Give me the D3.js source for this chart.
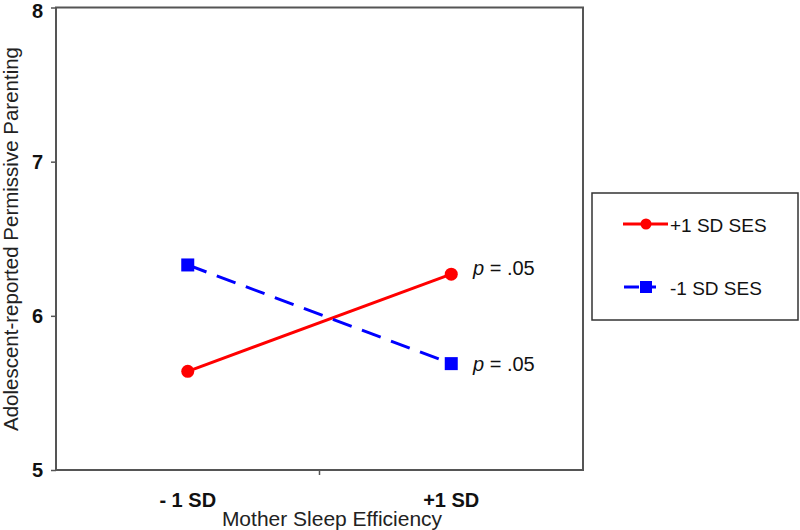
<!DOCTYPE html>
<html>
<head>
<meta charset="utf-8">
<title>Permissive Parenting</title>
<script src="https://d3js.org/d3.v7.min.js"></script>
<style>
  body { margin: 0; background: #fff; }
  svg { font-family: "Liberation Sans", Arial, sans-serif; }
</style>
</head>
<body>
<div id="chart"></div>
<script>
// data
const categories = ["- 1 SD", "+1 SD"];
const seriesNames = ["+1 SD SES", "-1 SD SES"];
const highSES = [5.64, 6.27];
const lowSES = [6.33, 5.69];
const pLabels = ["p = .05", "p = .05"];
const yTicks = [5, 6, 7, 8];

const W = 800, H = 530;
const svg = d3.select("#chart").append("svg")
  .attr("width", W).attr("height", H);

const plotL = 56, plotR = 583, plotT = 7.5, plotB = 470;

const x = d3.scalePoint().domain(categories).range([plotL, plotR]).padding(0.5);
const y = d3.scaleLinear().domain([5, 8]).range([plotB, plotT]);

// plot frame
svg.append("rect")
  .attr("x", plotL).attr("y", plotT)
  .attr("width", plotR - plotL).attr("height", plotB - plotT)
  .attr("fill", "none").attr("stroke", "#555").attr("stroke-width", 2);

// y axis
const yAxis = svg.append("g")
  .attr("transform", `translate(${plotL},0)`)
  .call(d3.axisLeft(y).tickValues(yTicks).tickFormat(d3.format("d")).tickSize(5).tickPadding(8));
yAxis.select(".domain").remove();
yAxis.selectAll("line").attr("stroke", "#555").attr("stroke-width", 1.5);
yAxis.selectAll("text")
  .attr("font-size", 20).attr("font-weight", "bold").attr("fill", "#111")
  .attr("font-family", "Liberation Sans, Arial, sans-serif");
yAxis.selectAll(".tick").filter(d => d === 8).select("text").attr("dy", "0.5em");

// x axis: single middle tick and category labels
const midX = (x(categories[0]) + x(categories[1])) / 2;
svg.append("line")
  .attr("x1", midX).attr("x2", midX)
  .attr("y1", plotB).attr("y2", plotB + 5)
  .attr("stroke", "#555").attr("stroke-width", 1.5);

svg.selectAll(".xlab")
  .data(categories)
  .join("text")
  .attr("class", "xlab")
  .attr("x", d => x(d))
  .attr("y", 507)
  .attr("text-anchor", "middle")
  .attr("font-size", 20).attr("font-weight", "bold").attr("fill", "#111")
  .text(d => d);

// axis titles
svg.append("text")
  .attr("x", 332).attr("y", 526)
  .attr("text-anchor", "middle")
  .attr("font-size", 21).attr("fill", "#222")
  .text("Mother Sleep Efficiency");

svg.append("text")
  .attr("transform", `translate(18,239) rotate(-90)`)
  .attr("text-anchor", "middle")
  .attr("font-size", 20.5).attr("fill", "#222")
  .text("Adolescent-reported Permissive Parenting");

// lines
const line = d3.line().x((d, i) => x(categories[i])).y(d => y(d));

svg.append("path")
  .datum(highSES)
  .attr("d", line)
  .attr("fill", "none").attr("stroke", "#ff0000").attr("stroke-width", 3);

svg.append("path")
  .datum(lowSES)
  .attr("d", line)
  .attr("fill", "none").attr("stroke", "#0000ff").attr("stroke-width", 3)
  .attr("stroke-dasharray", "20,11");

svg.selectAll(".dotHigh")
  .data(highSES)
  .join("circle")
  .attr("cx", (d, i) => x(categories[i]))
  .attr("cy", d => y(d))
  .attr("r", 6.5)
  .attr("fill", "#ff0000");

const sq = 13;
svg.selectAll(".sqLow")
  .data(lowSES)
  .join("rect")
  .attr("x", (d, i) => x(categories[i]) - sq / 2)
  .attr("y", d => y(d) - sq / 2)
  .attr("width", sq).attr("height", sq)
  .attr("fill", "#0000ff");

// p labels at right end
const pOffsets = [1, 7];
[highSES[1], lowSES[1]].forEach((v, i) => {
  const t = svg.append("text")
    .attr("x", 473).attr("y", y(v) + pOffsets[i])
    .attr("font-size", 20).attr("fill", "#111");
  t.append("tspan").attr("font-style", "italic").text(pLabels[i].slice(0, 1));
  t.append("tspan").text(pLabels[i].slice(1));
});

// legend
const lg = svg.append("g");
lg.append("rect")
  .attr("x", 592).attr("y", 193)
  .attr("width", 206).attr("height", 127)
  .attr("fill", "none").attr("stroke", "#333").attr("stroke-width", 1.5);

const legendY = [224, 287];
lg.append("line").attr("x1", 623).attr("x2", 668).attr("y1", legendY[0]).attr("y2", legendY[0])
  .attr("stroke", "#ff0000").attr("stroke-width", 3);
lg.append("circle").attr("cx", 646).attr("cy", legendY[0]).attr("r", 5.5).attr("fill", "#ff0000");

lg.append("line").attr("x1", 624).attr("x2", 668).attr("y1", legendY[1]).attr("y2", legendY[1])
  .attr("stroke", "#0000ff").attr("stroke-width", 3).attr("stroke-dasharray", "15,9,8");
lg.append("rect").attr("x", 640).attr("y", legendY[1] - 6).attr("width", 12).attr("height", 12)
  .attr("fill", "#0000ff");

lg.selectAll(".lt")
  .data(seriesNames)
  .join("text")
  .attr("x", 670).attr("y", (d, i) => legendY[i] + 7.5)
  .attr("font-size", 19).attr("fill", "#111")
  .text(d => d);
</script>
</body>
</html>
